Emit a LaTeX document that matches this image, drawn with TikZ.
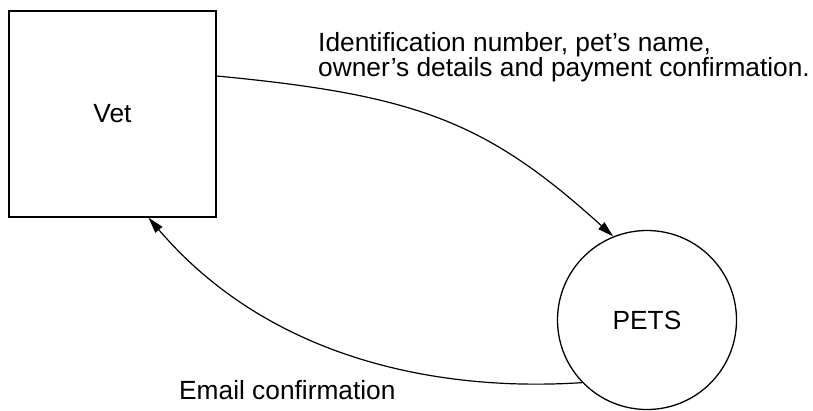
\documentclass[tikz,border=0pt]{standalone}
\usepackage{fontspec}
\setmainfont{Liberation Sans}
\usetikzlibrary{arrows.meta}

\tikzset{
  diagramfont/.style={font=\fontsize{26.3}{25}\selectfont},
  entity/.style={draw=black, line width=1.3pt, minimum width=207pt, minimum height=206pt, inner sep=0pt, diagramfont},
  process/.style={draw=black, line width=1.3pt, circle, minimum size=179pt, inner sep=0pt, diagramfont},
  flow/.style={line width=1.2pt, -{Triangle[length=16pt,width=9pt]}},
  flowlabel/.style={inner sep=0pt, diagramfont, align=left}
}

\begin{document}
\begin{tikzpicture}[x=1pt, y=-1pt]
  \useasboundingbox (0,0) rectangle (813,410);

  % external entity and process
  \node[entity] (vet) at (112.5,114) {Vet};
  \node[process] (pets) at (647,320) {PETS};

  % end points of the data flows
  \coordinate (vetout) at ([yshift=38pt]vet.east);
  \coordinate (vetin) at ([xshift=36pt]vet.south);
  \coordinate (petsin) at (pets.112);
  \coordinate (petsout) at (pets.224);

  % data flows
  \draw[flow] (vetout) .. controls (416,95) and (486,121) .. (petsin);
  \draw[flow] (petsout) .. controls (440,392) and (270,360) .. (vetin);

  % flow labels (base anchor = baseline of the last line)
  \node[flowlabel, anchor=base west] (lab1) at (318,76) {Identification number, pet’s name,\\owner’s details and payment confirmation.};
  \node[flowlabel, anchor=base west] (lab2) at (179,399) {Email confirmation};
\end{tikzpicture}
\end{document}
